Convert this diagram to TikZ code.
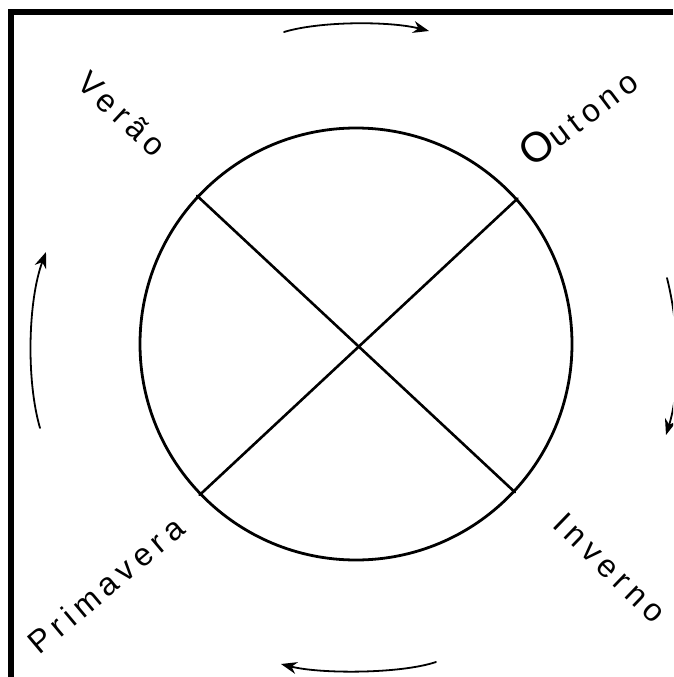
\documentclass[tikz,border=0pt]{standalone}
\usepackage{fontspec}
\setmainfont{Liberation Sans}
\usetikzlibrary{arrows.meta}
\begin{document}
\begin{tikzpicture}[x=1pt,y=-1pt,line cap=round,
  ring/.style={draw,circle,line width=2.8pt,inner sep=0pt,minimum size=432pt},
  spoke/.style={line width=2.6pt},
  cyc/.style={line width=1.8pt,-{Stealth[length=16pt,width=12pt]}},
  frame/.style={line width=6pt,line cap=butt},
  season/.style={font=\fontsize{32}{32}\selectfont\addfontfeature{LetterSpace=18},inner sep=0pt}]
\clip (0,0) rectangle (673,677);
\fill[white] (0,0) rectangle (673,677);
% frame
\coordinate (f1) at (10.5,677);
\coordinate (f2) at (10.5,12);
\coordinate (f3) at (673,12);
\draw[frame] (f1) -- (f2) -- (f3);
% circle and spokes
\node[ring] (c) at (356,344) {};
\draw[spoke] (c.137) -- (c.317);
\draw[spoke] (c.42) -- (c.224);
% labels
\node[season,rotate=-43] (ver) at (122,114) {Verão};
\node[season,rotate=37] (out) at (578,116) {{\fontsize{42}{42}\selectfont O}utono};
\node[season,rotate=-44] (inv) at (610,568) {Inverno};
\node[season,rotate=40] (pri) at (106,585) {Primavera};
% cycle arrows
\coordinate (t1) at (284,32);
\coordinate (t2) at (429,31);
\draw[cyc] (t1) .. controls (320,21) and (390,21) .. (t2);
\coordinate (r1) at (667,278);
\coordinate (r2) at (666,435);
\draw[cyc] (r1) .. controls (680,330) and (680,390) .. (r2);
\coordinate (b1) at (436,662);
\coordinate (b2) at (281,664);
\draw[cyc] (b1) .. controls (400,674) and (320,674) .. (b2);
\coordinate (l1) at (40,428);
\coordinate (l2) at (46,252);
\draw[cyc] (l1) .. controls (26,380) and (28,300) .. (l2);
\end{tikzpicture}
\end{document}
